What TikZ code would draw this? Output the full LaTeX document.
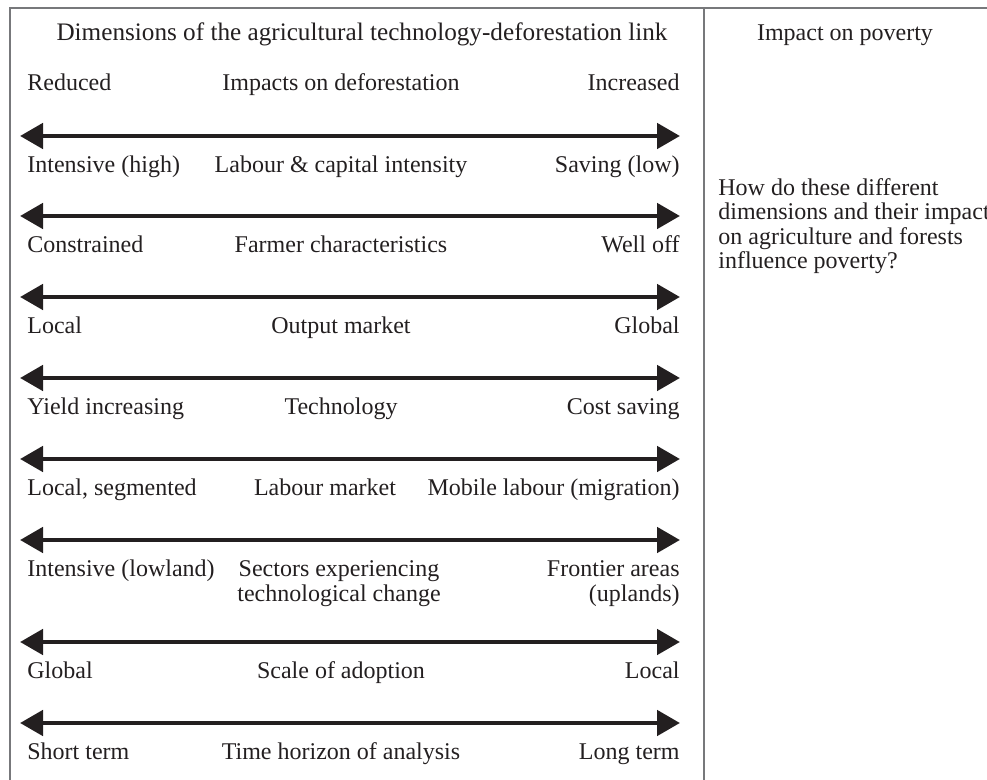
\documentclass[tikz,border=0pt]{standalone}
\usepackage{fontspec}
\setmainfont{Liberation Serif}
\usetikzlibrary{arrows.meta}

\definecolor{inkdark}{HTML}{231F20}
\definecolor{framegrey}{HTML}{77787B}

\tikzset{
  dimarrow/.style={{Triangle[length=11.5pt,width=12.5pt]}-{Triangle[length=11.5pt,width=12.5pt]},
    line width=2.4pt, draw=inkdark},
  lbl/.style={inner sep=0pt, text=inkdark, font=\fontsize{12}{12.3}\selectfont},
  frameline/.style={draw=framegrey, line width=0.55pt},
}

\begin{document}
\begin{tikzpicture}[x=0.5pt, y=-0.5pt]
	\useasboundingbox (0,0) rectangle (987,780);

	% frame and column divider
	\draw[frameline] (10,780) -- (10,8) -- (987,8);
	\draw[frameline] (704,8) -- (704,780);

	% headings
	\node[lbl, anchor=base, font=\fontsize{12.6}{13}\selectfont] (dimhead) at (362,41) {Dimensions of the agricultural technology-deforestation link};
	\node[lbl, anchor=base] (povhead) at (845,41) {Impact on poverty};

	\node[lbl, anchor=base west] (reduced) at (27,91) {Reduced};
	\node[lbl, anchor=base] (impacts) at (341,91) {Impacts on deforestation};
	\node[lbl, anchor=base east] (increased) at (680,91) {Increased};

	% one double arrow per dimension, labels underneath
	% (\dy moves the base of two-line labels down to their last line)
	\foreach \n/\ya/\yb/\dy/\mx/\l/\m/\r in {
		1/136/173/0/341/{Intensive (high)}/{Labour \& capital intensity}/{Saving (low)},
		2/216/253/0/341/{Constrained}/{Farmer characteristics}/{Well off},
		3/297/334/0/341/{Local}/{Output market}/{Global},
		4/378/415/0/341/{Yield increasing}/{Technology}/{Cost saving},
		5/459/496/0/325/{Local, segmented}/{Labour market}/{Mobile labour (migration)},
		6/540/577/24.6/339/{Intensive (lowland)}/{Sectors experiencing\\technological change}/{Frontier areas\\(uplands)},
		7/642/679/0/341/{Global}/{Scale of adoption}/{Local},
		8/723/760/0/341/{Short term}/{Time horizon of analysis}/{Long term}}{
		\coordinate (w\n) at (20,\ya);
		\coordinate (e\n) at (680,\ya);
		\draw[dimarrow] (w\n) -- (e\n);
		\node[lbl, anchor=base west] (left\n) at (27,\yb) {\l};
		\node[lbl, anchor=base, align=center] (mid\n) at (\mx,\yb+\dy) {\m};
		\node[lbl, anchor=base east, align=right] (right\n) at (680,\yb+\dy) {\r};
	}

	% poverty question (base = last line)
	\node[lbl, anchor=base west, align=left] (question) at (718,269)
		{How do these different\\dimensions and their impact\\on agriculture and forests\\influence poverty?};
\end{tikzpicture}
\end{document}
